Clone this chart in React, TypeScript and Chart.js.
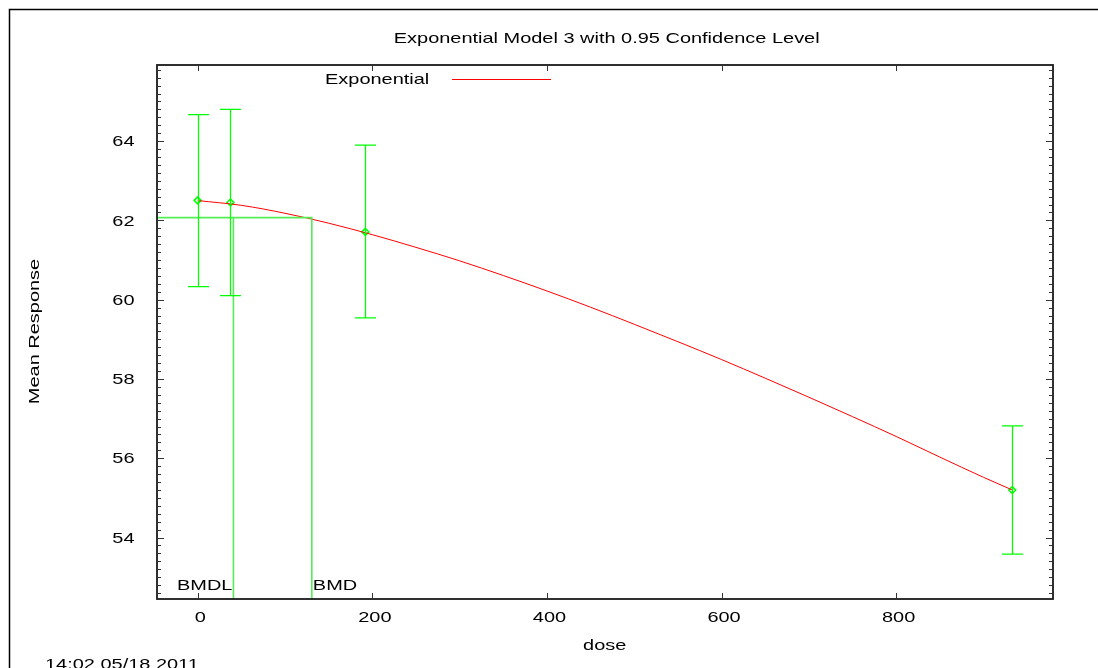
import React, { useEffect, useRef } from "react";
import { Chart, registerables } from "chart.js";

Chart.register(...registerables);

// ---- data ----
const doses = [0, 37.5, 192, 933];
const means = [62.505, 62.45, 61.71, 55.2];
const ciLow = [60.33, 60.1, 59.54, 53.58];
const ciHigh = [64.67, 64.8, 63.9, 56.82];

const curveDose = [0, 50, 100, 150, 200, 250, 300, 350, 400, 450, 500, 550, 600, 650, 700, 750, 800, 850, 900, 933];
const curveResp = [62.5, 62.38, 62.18, 61.93, 61.64, 61.32, 60.98, 60.61, 60.22, 59.81, 59.38, 58.94, 58.49, 58.02, 57.54, 57.05, 56.55, 56.03, 55.52, 55.2];

const bmrLevel = 62.07;
const bmdValue = 130.7;
const bmdlValue = 40.9;

const xTicks = [0, 200, 400, 600, 800];
const yTicks = [54, 56, 58, 60, 62, 64];
const yMinorStep = 0.2;
const xRange = [-46.65, 979.65];
const yRange = [52.45, 65.92];

const titleText = "Exponential Model 3 with 0.95 Confidence Level";
const legendLabel = "Exponential";
const xTitle = "dose";
const yTitle = "Mean Response";
const stampText = "14:02 05/18 2011";
const bmdlLabel = "BMDL";
const bmdLabel = "BMD";

const FONT = "15px 'Liberation Sans', Arial, Helvetica, sans-serif";
const SX = 1.33;
const GREEN = "#00ff00";
const LIGHT_GREEN = "#55ee55";

function txt(
  ctx: CanvasRenderingContext2D,
  s: string,
  x: number,
  y: number,
  align: CanvasTextAlign,
  baseline: CanvasTextBaseline,
  rot = 0
) {
  ctx.save();
  ctx.translate(x, y);
  if (rot) ctx.rotate(rot);
  ctx.scale(SX, 1);
  ctx.font = FONT;
  ctx.fillStyle = "#000";
  ctx.textAlign = align;
  ctx.textBaseline = baseline;
  ctx.fillText(s, 0, 0);
  ctx.restore();
}

const decorPlugin = {
  id: "decor",
  afterDatasetsDraw(chart: any) {
    const ctx: CanvasRenderingContext2D = chart.ctx;
    const xs = chart.scales.x;
    const ys = chart.scales.y;
    ctx.save();
    ctx.strokeStyle = GREEN;
    ctx.lineWidth = 1.25;
    for (let i = 0; i < doses.length; i++) {
      const px = Math.round(xs.getPixelForValue(doses[i])) + 0.5;
      const pl = ys.getPixelForValue(ciLow[i]);
      const ph = ys.getPixelForValue(ciHigh[i]);
      ctx.beginPath();
      ctx.moveTo(px, pl);
      ctx.lineTo(px, ph);
      ctx.moveTo(px - 10.5, ph);
      ctx.lineTo(px + 10.5, ph);
      ctx.moveTo(px - 10.5, pl);
      ctx.lineTo(px + 10.5, pl);
      ctx.stroke();
    }
    ctx.restore();
  },
  afterDraw(chart: any) {
    const ctx: CanvasRenderingContext2D = chart.ctx;
    const xs = chart.scales.x;
    const ys = chart.scales.y;
    const a = chart.chartArea;
    ctx.save();

    // outer page frame
    ctx.strokeStyle = "#000";
    ctx.lineWidth = 1.5;
    ctx.beginPath();
    ctx.moveTo(9.5, 700);
    ctx.lineTo(9.5, 9.5);
    ctx.lineTo(1200, 9.5);
    ctx.stroke();

    // plot frame
    ctx.strokeStyle = "#1a1a1a";
    ctx.lineWidth = 1.8;
    ctx.strokeRect(a.left, a.top, a.right - a.left, a.bottom - a.top);

    // y ticks (major + minor), both sides, inward
    ctx.lineWidth = 1;
    ctx.strokeStyle = "#333";
    const start = Math.ceil(yRange[0] / yMinorStep);
    const end = Math.floor(yRange[1] / yMinorStep);
    ctx.beginPath();
    for (let k = start; k <= end; k++) {
      const v = k * yMinorStep;
      const major = yTicks.some((t) => Math.abs(t - v) < 1e-6);
      const len = major ? 7 : 4;
      const py = Math.round(ys.getPixelForValue(v)) + 0.5;
      ctx.moveTo(a.left, py);
      ctx.lineTo(a.left + len, py);
      ctx.moveTo(a.right, py);
      ctx.lineTo(a.right - len, py);
    }
    // x ticks top + bottom
    for (const t of xTicks) {
      const px = Math.round(xs.getPixelForValue(t)) + 0.5;
      ctx.moveTo(px, a.bottom);
      ctx.lineTo(px, a.bottom - 6);
      ctx.moveTo(px, a.top);
      ctx.lineTo(px, a.top + 6);
    }
    ctx.stroke();

    // tick labels
    for (const t of yTicks) {
      txt(ctx, String(t), 134.5, ys.getPixelForValue(t) + 1, "right", "middle");
    }
    for (const t of xTicks) {
      txt(ctx, String(t), xs.getPixelForValue(t) + 2.5, a.bottom + 18.5, "center", "middle");
    }

    // titles
    txt(ctx, titleText, 606.7, 43, "center", "alphabetic");
    txt(ctx, xTitle, 604.7, 650, "center", "alphabetic");
    txt(ctx, yTitle, 35, 331.5, "center", "middle", -Math.PI / 2);
    txt(ctx, stampText, 45, 669, "left", "alphabetic");

    // legend
    txt(ctx, legendLabel, 325, 84, "left", "alphabetic");
    ctx.strokeStyle = "#ff0000";
    ctx.lineWidth = 1;
    ctx.beginPath();
    ctx.moveTo(452, 79.5);
    ctx.lineTo(551, 79.5);
    ctx.stroke();

    // BMD labels
    txt(ctx, bmdlLabel, xs.getPixelForValue(bmdlValue) - 1, a.bottom - 9, "right", "alphabetic");
    txt(ctx, bmdLabel, xs.getPixelForValue(bmdValue) + 1, a.bottom - 9, "left", "alphabetic");

    ctx.restore();
  },
};

export default function App() {
  const ref = useRef<HTMLCanvasElement | null>(null);

  useEffect(() => {
    if (!ref.current) return;
    const curve = curveDose.map((d, i) => ({ x: d, y: curveResp[i] }));
    const pts = doses.map((d, i) => ({ x: d, y: means[i] }));
    const bmdLine = [
      { x: xRange[0], y: bmrLevel },
      { x: bmdValue, y: bmrLevel },
      { x: bmdValue, y: yRange[0] },
    ];
    const bmdlLine = [
      { x: bmdlValue, y: bmrLevel },
      { x: bmdlValue, y: yRange[0] },
    ];
    const chart = new Chart(ref.current, {
      type: "scatter",
      data: {
        datasets: [
          {
            type: "line",
            label: "BMD",
            data: bmdLine,
            borderColor: LIGHT_GREEN,
            borderWidth: 1.6,
            pointRadius: 0,
            fill: false,
          } as any,
          {
            type: "line",
            label: "BMDL",
            data: bmdlLine,
            borderColor: LIGHT_GREEN,
            borderWidth: 1.6,
            pointRadius: 0,
            fill: false,
          } as any,
          {
            type: "line",
            label: legendLabel,
            data: curve,
            borderColor: "#ff0000",
            borderWidth: 1,
            pointRadius: 0,
            cubicInterpolationMode: "monotone",
            fill: false,
          } as any,
          {
            type: "scatter",
            label: "Data",
            data: pts,
            pointStyle: "rectRot",
            pointRadius: 3.5,
            borderColor: GREEN,
            backgroundColor: "rgba(0,0,0,0)",
            borderWidth: 1.5,
          } as any,
        ],
      },
      options: {
        responsive: false,
        devicePixelRatio: 1,
        animation: false,
        layout: { padding: { left: 157, right: 45, top: 65, bottom: 69 } },
        plugins: { legend: { display: false }, tooltip: { enabled: false }, title: { display: false } },
        scales: {
          x: {
            type: "linear",
            min: xRange[0],
            max: xRange[1],
            grid: { display: false },
            border: { display: false },
            ticks: { display: false },
            afterFit: (s: any) => {
              s.height = 0;
            },
          },
          y: {
            type: "linear",
            min: yRange[0],
            max: yRange[1],
            grid: { display: false },
            border: { display: false },
            ticks: { display: false },
            afterFit: (s: any) => {
              s.width = 0;
            },
          },
        },
      } as any,
      plugins: [decorPlugin],
    });
    return () => chart.destroy();
  }, []);

  return (
    <div style={{ position: "absolute", left: 0, top: 0, width: 1098, height: 668, background: "#fff" }}>
      <canvas ref={ref} width={1098} height={668} style={{ display: "block" }} />
    </div>
  );
}
